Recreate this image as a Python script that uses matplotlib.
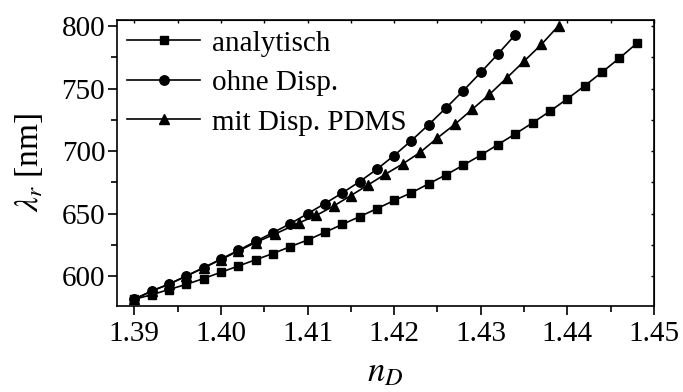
import numpy as np
import matplotlib
matplotlib.use("Agg")
import matplotlib.pyplot as plt
from matplotlib.ticker import MultipleLocator, FormatStrFormatter

plt.rcParams['font.family'] = ['Liberation Serif', 'DejaVu Serif']
plt.rcParams['mathtext.fontset'] = 'stix'

# analytisch
n_ana = [1.390, 1.392, 1.394, 1.396, 1.398, 1.400, 1.402, 1.404, 1.406, 1.408,
         1.410, 1.412, 1.414, 1.416, 1.418, 1.420, 1.422, 1.424, 1.426, 1.428,
         1.430, 1.432, 1.434, 1.436, 1.438, 1.440, 1.442, 1.444, 1.446, 1.448]
lam_ana = [581.4, 585.0, 589.2, 593.3, 598.0, 603.0, 608.0, 613.0, 618.0, 623.5,
           628.8, 635.0, 641.3, 647.5, 653.9, 660.5, 666.7, 673.9, 681.1, 688.8,
           696.8, 705.3, 713.9, 722.7, 732.0, 741.9, 752.3, 763.2, 774.4, 786.2]

# ohne Dispersion
n_ohne = [1.390, 1.392, 1.394, 1.396, 1.398, 1.400, 1.402, 1.404, 1.406, 1.408,
          1.410, 1.412, 1.414, 1.416, 1.418, 1.420, 1.422, 1.424, 1.426, 1.428,
          1.430, 1.432, 1.434]
lam_ohne = [581.5, 588.0, 593.5, 600.0, 606.7, 613.6, 620.5, 627.7, 634.7, 641.9,
            649.9, 658.0, 666.5, 675.5, 685.5, 696.5, 708.5, 721.3, 734.7, 748.5,
            763.0, 777.9, 793.3]

# mit Dispersion PDMS
n_pdms = [1.390, 1.392, 1.394, 1.396, 1.398, 1.400, 1.402, 1.404, 1.4063, 1.409,
          1.411, 1.413, 1.415, 1.417, 1.419, 1.421, 1.423, 1.425, 1.427, 1.429,
          1.431, 1.433, 1.435, 1.437, 1.439]
lam_pdms = [581.3, 588.0, 593.5, 600.0, 606.5, 613.2, 620.0, 626.8, 633.8, 642.5,
            648.5, 656.0, 664.4, 673.0, 681.6, 689.8, 699.0, 710.6, 721.4, 733.4,
            745.4, 758.6, 772.0, 785.4, 800.5]

fig = plt.figure(figsize=(6.83, 3.92), dpi=100)
ax = fig.add_axes([0.1713, 0.2194, 0.7862, 0.7296])

kw = dict(color='black', lw=1.2, clip_on=False)
ax.plot(n_ana, lam_ana, marker='s', ms=6.3, label='analytisch', **kw)
ax.plot(n_ohne, lam_ohne, marker='o', ms=6.8, label='ohne Disp.', **kw)
ax.plot(n_pdms, lam_pdms, marker='^', ms=7.8, label='mit Disp. PDMS', **kw)

ax.set_xlim(1.388, 1.45)
ax.set_ylim(576, 805)
ax.xaxis.set_major_locator(MultipleLocator(0.01))
ax.xaxis.set_minor_locator(MultipleLocator(0.005))
ax.xaxis.set_major_formatter(FormatStrFormatter('%.2f'))
ax.yaxis.set_major_locator(MultipleLocator(50))
ax.yaxis.set_minor_locator(MultipleLocator(25))

for s in ax.spines.values():
    s.set_linewidth(1.2)
ax.tick_params(which='major', direction='out', length=6.5, width=1.2,
               labelsize=21, pad=2)
ax.tick_params(axis='x', which='major', pad=4)
ax.tick_params(which='minor', direction='out', length=4, width=1.2)

# kurze Striche oben und rechts
top = ax.secondary_xaxis('top')
top.xaxis.set_major_locator(MultipleLocator(0.005))
top.tick_params(direction='in', length=2.5, width=1.0, labeltop=False)
right = ax.secondary_yaxis('right')
right.yaxis.set_major_locator(MultipleLocator(25))
right.tick_params(direction='in', length=2.5, width=1.0, labelright=False)

ax.set_xlabel('$n_D$', fontsize=25, labelpad=7)
ax.set_ylabel(r'$\lambda_r$ [nm]', fontsize=24, labelpad=12)

ax.legend(loc='upper left', frameon=False, fontsize=21, handlelength=2.5,
          handletextpad=0.4, labelspacing=0.45, borderaxespad=0.15,
          borderpad=0.2)

fig.savefig('out.png', dpi=100)
